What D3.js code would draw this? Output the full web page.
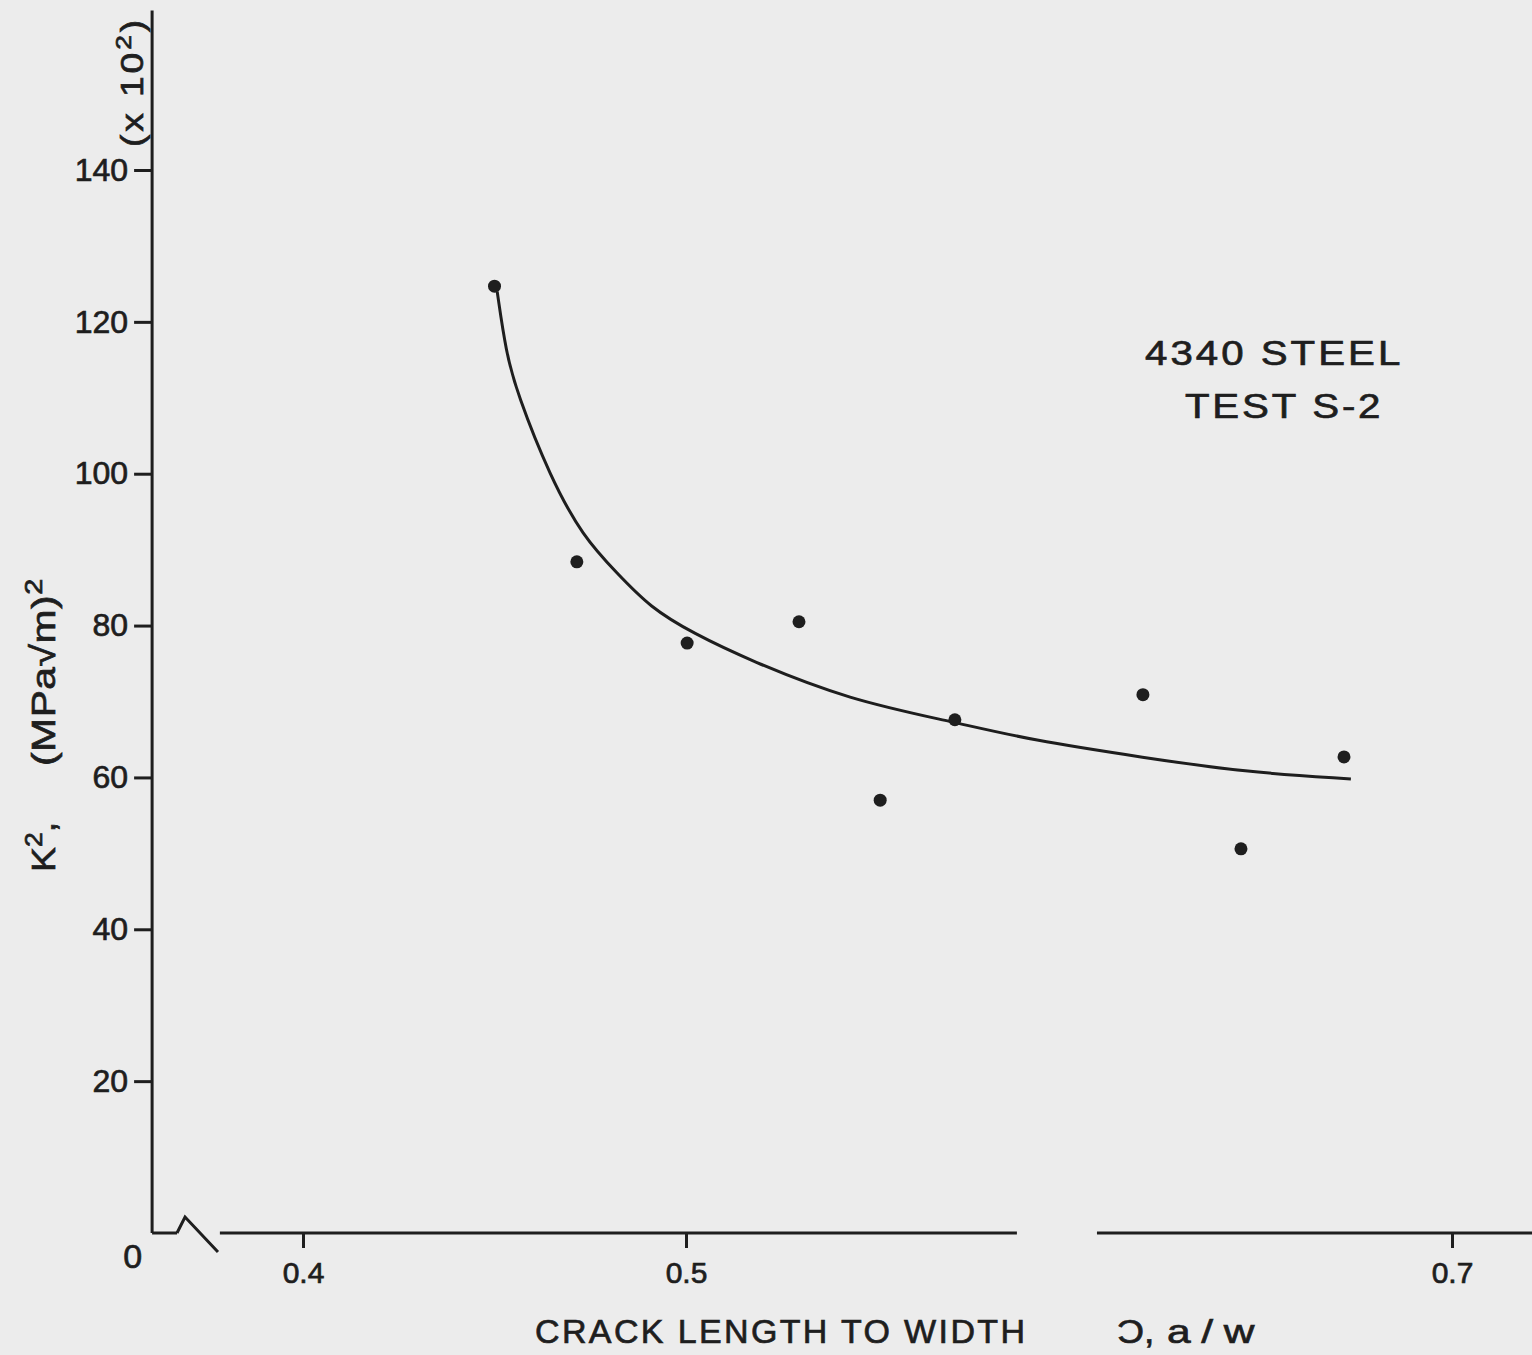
<!DOCTYPE html>
<html>
<head>
<meta charset="UTF-8">
<title>K squared vs a/w</title>
<script src="https://cdn.jsdelivr.net/npm/d3@7"></script>
<style>
  body { margin: 0; background: #ececec; }
  svg text { font-family: "Liberation Sans", Arial, sans-serif; fill: #1e1e1e; stroke: #1e1e1e; stroke-width: 0.7px; }
</style>
</head>
<body>
<script>
// measured points, a/w and K^2 (x10^2)
var pointA = [0.450, 0.4715, 0.5003, 0.5295, 0.5507, 0.5702, 0.6193, 0.6449, 0.6718];
var pointK = [124.7, 88.4, 77.7, 80.5, 57.0, 67.6, 70.9, 50.6, 62.7];

// hand fitted curve
var fitA = [0.4507, 0.4530, 0.4559, 0.4645, 0.4731, 0.4820, 0.4906, 0.5018, 0.5167, 0.5426, 0.5700, 0.5901, 0.6198, 0.6457, 0.6736];
var fitK = [124.0, 116.0, 110.6, 99.6, 91.7, 86.9, 82.4, 79.0, 75.4, 70.2, 67.3, 64.9, 62.6, 60.7, 59.8];

var yTicks = [20, 40, 60, 80, 100, 120, 140];
var xTicks = [0.4, 0.5, 0.7];
var xTickLabels = ["0.4", "0.5", "0.7"];

// pieces of the broken x axis line (a/w units)
var axisPieces = [[0.3606, 0.3671], [0.3783, 0.5864], [0.6073, 0.7215]];

var W = 1532, H = 1355;
var ink = "#1e1e1e";

var x = d3.scaleLinear().domain([0.4, 0.7]).range([303, 1452]);
var y = d3.scaleLinear().domain([0, 140]).range([1233, 170]);

var svg = d3.select("body").append("svg")
    .attr("width", W)
    .attr("height", H);

// y axis
var yAxis = svg.append("g")
    .attr("transform", "translate(" + x(0.3606) + ",0)")
    .call(d3.axisLeft(y).tickValues(yTicks).tickSize(18).tickPadding(6).tickFormat(d3.format("d")));
yAxis.select(".domain").remove();
yAxis.selectAll(".tick line").attr("stroke", ink).attr("stroke-width", 3);
yAxis.selectAll(".tick text").attr("font-size", 32).attr("fill", ink).style("font-family", "Liberation Sans");

svg.append("line")
    .attr("x1", x(0.3606)).attr("x2", x(0.3606))
    .attr("y1", y(0)).attr("y2", y(161))
    .attr("stroke", ink).attr("stroke-width", 3);

svg.append("text")
    .attr("x", x(0.3606) - 10).attr("y", y(0) + 35)
    .attr("text-anchor", "end").attr("font-size", 34)
    .text("0");

// x axis (broken)
svg.selectAll("line.xpiece").data(axisPieces).enter().append("line")
    .attr("class", "xpiece")
    .attr("x1", function(d){ return x(d[0]); })
    .attr("x2", function(d){ return x(d[1]); })
    .attr("y1", y(0)).attr("y2", y(0))
    .attr("stroke", ink).attr("stroke-width", 3);

// break mark
svg.append("path")
    .attr("d", "M" + x(0.3671) + "," + y(0) + " L" + x(0.3692) + "," + (y(0) - 16) + " L" + x(0.3778) + "," + (y(0) + 19))
    .attr("fill", "none").attr("stroke", ink).attr("stroke-width", 3);

var xAxis = svg.append("g")
    .attr("transform", "translate(0," + y(0) + ")")
    .call(d3.axisBottom(x).tickValues(xTicks).tickSize(15).tickPadding(14)
        .tickFormat(function(d, i){ return xTickLabels[i]; }));
xAxis.select(".domain").remove();
xAxis.selectAll(".tick line").attr("stroke", ink).attr("stroke-width", 3);
xAxis.selectAll(".tick text").attr("font-size", 30).attr("fill", ink).style("font-family", "Liberation Sans");

// axis titles
svg.append("text")
    .attr("x", 535).attr("y", 1343)
    .attr("font-size", 34)
    .attr("textLength", 490).attr("lengthAdjust", "spacing")
    .text("CRACK LENGTH  TO WIDTH");
svg.append("text")
    .attr("transform", "translate(1117,1343) scale(1.1,1)")
    .attr("font-size", 34)
    .text("Ͻ,");
svg.append("text")
    .attr("transform", "translate(1167,1343) scale(1.25,1)")
    .attr("font-size", 34)
    .attr("textLength", 70).attr("lengthAdjust", "spacing")
    .text("a/w");

var ylab1 = svg.append("text")
    .attr("transform", "translate(55,872) rotate(-90) scale(1.1,1)")
    .attr("font-size", 34);
ylab1.append("tspan").text("K");
ylab1.append("tspan").attr("dy", -13).attr("font-size", 24).text("2");
ylab1.append("tspan").attr("dy", 13).text(",");

var ylab2 = svg.append("text")
    .attr("transform", "translate(55,766) rotate(-90) scale(1.2,1)")
    .attr("font-size", 34)
    .attr("textLength", 156).attr("lengthAdjust", "spacing");
ylab2.append("tspan").text("(MPa√m)");
ylab2.append("tspan").attr("dy", -13).attr("font-size", 24).text("2");

var xlab = svg.append("text")
    .attr("transform", "translate(143,147) rotate(-90) scale(1.2,1)")
    .attr("font-size", 31)
    .attr("textLength", 106).attr("lengthAdjust", "spacing");
xlab.append("tspan").text("(x 10");
xlab.append("tspan").attr("dy", -12).attr("font-size", 22).text("2");
xlab.append("tspan").attr("dy", 12).text(")");

// annotation
svg.append("text")
    .attr("transform", "translate(1145,365) scale(1.15,1)")
    .attr("font-size", 35)
    .attr("textLength", 222).attr("lengthAdjust", "spacing")
    .text("4340  STEEL");
svg.append("text")
    .attr("transform", "translate(1185,418) scale(1.15,1)")
    .attr("font-size", 35)
    .attr("textLength", 170).attr("lengthAdjust", "spacing")
    .text("TEST  S-2");

// fitted curve
var fit = fitA.map(function(a, i){ return [a, fitK[i]]; });
svg.append("path")
    .datum(fit)
    .attr("d", d3.line()
        .x(function(d){ return x(d[0]); })
        .y(function(d){ return y(d[1]); })
        .curve(d3.curveBasis))
    .attr("fill", "none").attr("stroke", ink).attr("stroke-width", 3);

// data points
var pts = pointA.map(function(a, i){ return [a, pointK[i]]; });
svg.selectAll("circle.pt").data(pts).enter().append("circle")
    .attr("class", "pt")
    .attr("cx", function(d){ return x(d[0]); })
    .attr("cy", function(d){ return y(d[1]); })
    .attr("r", 6.5)
    .attr("fill", ink);
</script>
</body>
</html>
